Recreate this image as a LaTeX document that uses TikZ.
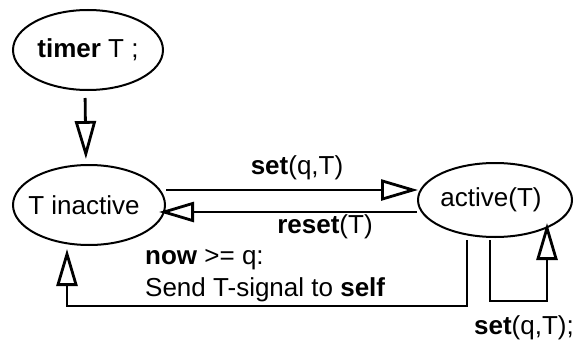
\documentclass[tikz,border=0pt]{standalone}
\usepackage{fontspec}
\setmainfont{Liberation Sans}
\usetikzlibrary{arrows.meta,shapes.geometric}

\begin{document}
\begin{tikzpicture}[x=1pt, y=1pt, font=\fontsize{26}{32}\selectfont,
  >={Triangle[open, length=37pt, width=21pt]},
  state/.style={draw, ellipse, line width=2pt, inner sep=0pt},
  flow/.style={->, line width=2.8pt},
  lbl/.style={inner sep=0pt}]
  \useasboundingbox (0,0) rectangle (578,341);

  % states
  \node[state, minimum width=150pt, minimum height=80pt] (timer) at (88,291) {\makebox[0pt]{\textbf{timer} T ;}};
  \node[state, minimum width=152pt, minimum height=80pt] (inactive) at (89,136) {\makebox[0pt]{\hspace{-10pt}T inactive}};
  \node[state, minimum width=154pt, minimum height=74pt] (active) at (495,141) {\makebox[0pt]{\hspace{-8pt}active(T)}};

  % transitions
  \draw[line width=2.8pt, shorten <=7pt, -{Triangle[open, length=38pt, width=21pt, sep=6pt]}]
    ([xshift=-3pt]timer.south) -- ([xshift=-3pt, yshift=-1pt]inactive.north);
  \draw[flow] ([yshift=15pt]inactive.east) -- ([xshift=1pt, yshift=10pt]active.west);
  \draw[line width=2.8pt, -{Triangle[open, length=35pt, width=20pt, sep=4pt]}]
    ([yshift=-12pt]active.west) -- ([xshift=-11pt, yshift=-7pt]inactive.east);
  \draw[flow] ([xshift=-28pt, yshift=-2pt]active.south) -- ++(0,-66) -| ([xshift=-22pt, yshift=-3pt]inactive.south);
  \draw[flow] ([xshift=-5pt, yshift=-2pt]active.south) -- ++(0,-61) -| ([xshift=52pt, yshift=15pt]active.south);

  % labels
  \node[lbl] (setlbl) at (297,173) {\textbf{set}(q,T)};
  \node[lbl] (resetlbl) at (325,114) {\textbf{reset}(T)};
  \node[lbl, anchor=west, align=left] (expirelbl) at (145,65) {\textbf{now} >= q:\\Send T-signal to \textbf{self}};
  \node[lbl] (loopl) at (524,13) {\textbf{set}(q,T);};
\end{tikzpicture}
\end{document}
